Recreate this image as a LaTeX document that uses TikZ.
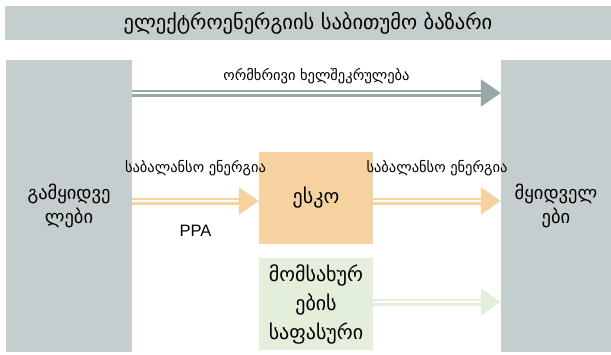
\documentclass[tikz,border=0pt]{standalone}
\usepackage{fontspec}
\setmainfont{DejaVu Sans}
\newfontfamily\latinfont{Liberation Sans}
\usepackage{xcolor}
\usepackage{tikz}
\usetikzlibrary{positioning, arrows.meta}
\definecolor{boxgray}{HTML}{C5CECE}
\definecolor{arrgray}{HTML}{97A8A7}
\definecolor{escoorange}{HTML}{F7D2A1}
\definecolor{srvgreen}{HTML}{E3EFDA}
\tikzset{
  side/.style={fill=boxgray, minimum height=292pt, align=center, inner sep=0pt, font=\fontsize{18.5}{24}\selectfont},
  midbox/.style={minimum width=114pt, minimum height=92pt, align=center, inner sep=0pt, font=\fontsize{20}{29}\selectfont},
  dblarrow/.style={double=white, double distance=2pt, line width=2.5pt, -{Triangle[length=20pt, width=27pt]}},
  lbl/.style={font=\fontsize{14.5}{16}\selectfont}
}

\begin{document}
\begin{tikzpicture}[x=1pt, y=-1pt]
\useasboundingbox (0,0) rectangle (611,354);
\node[fill=boxgray, minimum width=606pt, minimum height=34pt, inner sep=0pt, font=\fontsize{20.5}{22}\selectfont] (market) at (308,23) {ელექტროენერგიის საბითუმო ბაზარი};
\node[side, minimum width=126pt] (sellers) at (69,206) {გამყიდვე\\ლები};
\node[side, minimum width=110pt] (buyers) at (556,206) {მყიდველ\\ები};
\node[midbox, fill=escoorange] (esco) at (316,198) {ესკო};
\node[midbox, fill=srvgreen] (fee) at (316,304) {მომსახურ\\ების\\საფასური};
%\node (ppa) [below=of sellers] {PPA};
\draw[dblarrow, draw=arrgray] (sellers.east |- 0,93) -- node[lbl, above=5pt]{ორმხრივი ხელშეკრულება} (buyers.west |- 0,93);
\draw[dblarrow, draw=escoorange] (sellers.east |- 0,201) -- node[lbl, above=21pt]{საბალანსო ენერგია} node[below=20pt, font=\latinfont\fontsize{16.5}{18}\selectfont]{PPA} (esco.west |- 0,201);
\draw[dblarrow, draw=escoorange] (esco.east |- 0,201) -- node[lbl, above=21pt]{საბალანსო ენერგია} (buyers.west |- 0,201);
\draw[dblarrow, draw=srvgreen] (fee.east |- 0,302) -- (buyers.west |- 0,302);
\end{tikzpicture}
\end{document}
